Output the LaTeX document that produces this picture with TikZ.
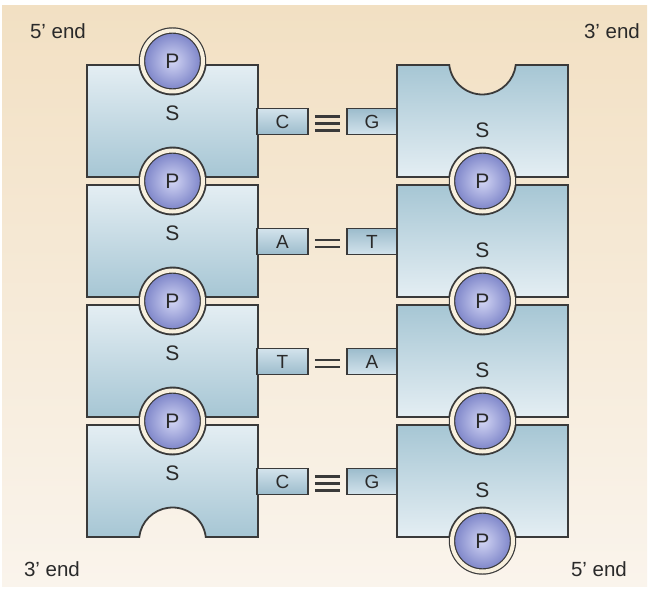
\documentclass[tikz,border=0pt]{standalone}
\usepackage{fontspec}
\setmainfont{Liberation Sans}

\definecolor{bgtop}{HTML}{F2E0C3}
\definecolor{bgbot}{HTML}{FAF4EC}
\definecolor{suglight}{HTML}{E4EEF3}
\definecolor{sugdark}{HTML}{A6C6D4}
\definecolor{tabl}{HTML}{D3E3EC}
\definecolor{tabd}{HTML}{9CBCCC}
\definecolor{edge}{HTML}{3A3A3A}
\definecolor{txt}{HTML}{2A2A2A}
\definecolor{ring}{HTML}{F8F0DE}
\definecolor{phosin}{HTML}{D2D5F4}
\definecolor{phosout}{HTML}{7880C6}

% sugar block with a round notch on top and bottom: #1 left x, #2 bottom y, #3 shading
\newcommand{\sugar}[3]{
  \path[sugarbox,#3] (#1,#2+112) -- ++(52.24,0)
    arc[start angle=186.86,end angle=353.14,radius=33.5pt] -- (#1+171,#2+112)
    -- (#1+171,#2) -- (#1+118.76,#2)
    arc[start angle=6.86,end angle=173.14,radius=33.5pt] -- (#1,#2) -- cycle;
}

\begin{document}
\begin{tikzpicture}[x=1pt,y=1pt,line width=1.8pt,
  sugarbox/.style={draw=edge},
  base/.style={rectangle,draw=edge,inner sep=0pt,minimum height=26pt,
    font=\fontsize{19}{21}\selectfont,text=txt},
  phos/.style={circle,draw=edge,line width=1.2pt,double=ring,double distance=4pt,
    inner color=phosin,outer color=phosout,minimum size=61pt,inner sep=0pt,
    font=\fontsize{21}{23}\selectfont,text=txt},
  bond/.style={draw=edge,line width=2.6pt},
  lbl/.style={font=\fontsize{21}{23}\selectfont,text=txt},
  strandend/.style={font=\fontsize{20.5}{22}\selectfont,text=txt}]

 \useasboundingbox (0,0) rectangle (649,590);
 \fill[white] (0,0) rectangle (649,590);
 \shade[top color=bgtop,bottom color=bgbot] (2,3) rectangle (647,584);

 % sugars of both strands
 \foreach \k in {0,...,3}{
   \pgfmathsetmacro\y{413-120*\k}
   \sugar{87}{\y}{top color=suglight,bottom color=sugdark}
   \sugar{397}{\y}{top color=sugdark,bottom color=suglight}
   \node[lbl] (sl\k) at (172.5,\y+64) {S};
   \node[lbl] (sr\k) at (482.5,\y+47) {S};
 }

 % phosphates sit in the notches
 \foreach \k in {0,...,3}{
   \pgfmathsetmacro\y{413-120*\k}
   \node[phos] (pl\k) at (172.5,\y+116) {P};
   \node[phos] (pr\k) at (482.5,\y-4) {P};
 }

 % base pairs and their hydrogen bonds
 \foreach \k/\a/\b/\n in {0/C/G/3,1/A/T/2,2/T/A/2,3/C/G/3}{
   \pgfmathsetmacro\y{468.5-120*\k}
   \node[base,minimum width=51pt,top color=tabl,bottom color=tabd] (bl\k) at (282.5,\y) {\a};
   \node[base,minimum width=50pt,top color=tabd,bottom color=tabl] (br\k) at (372,\y) {\b};
   \foreach \i in {1,...,\n}{
     \pgfmathsetmacro\o{(\i-(\n+1)/2)*7-2}
     \draw[bond] ([xshift=6pt,yshift=\o pt]bl\k.east) -- ([xshift=-6pt,yshift=\o pt]br\k.west);
   }
 }

 \node[strandend] (fivetop) at (58,559) {5’ end};
 \node[strandend] (threetop) at (612,559) {3’ end};
 \node[strandend] (threebot) at (52,21) {3’ end};
 \node[strandend] (fivebot) at (599,21) {5’ end};
\end{tikzpicture}
\end{document}
